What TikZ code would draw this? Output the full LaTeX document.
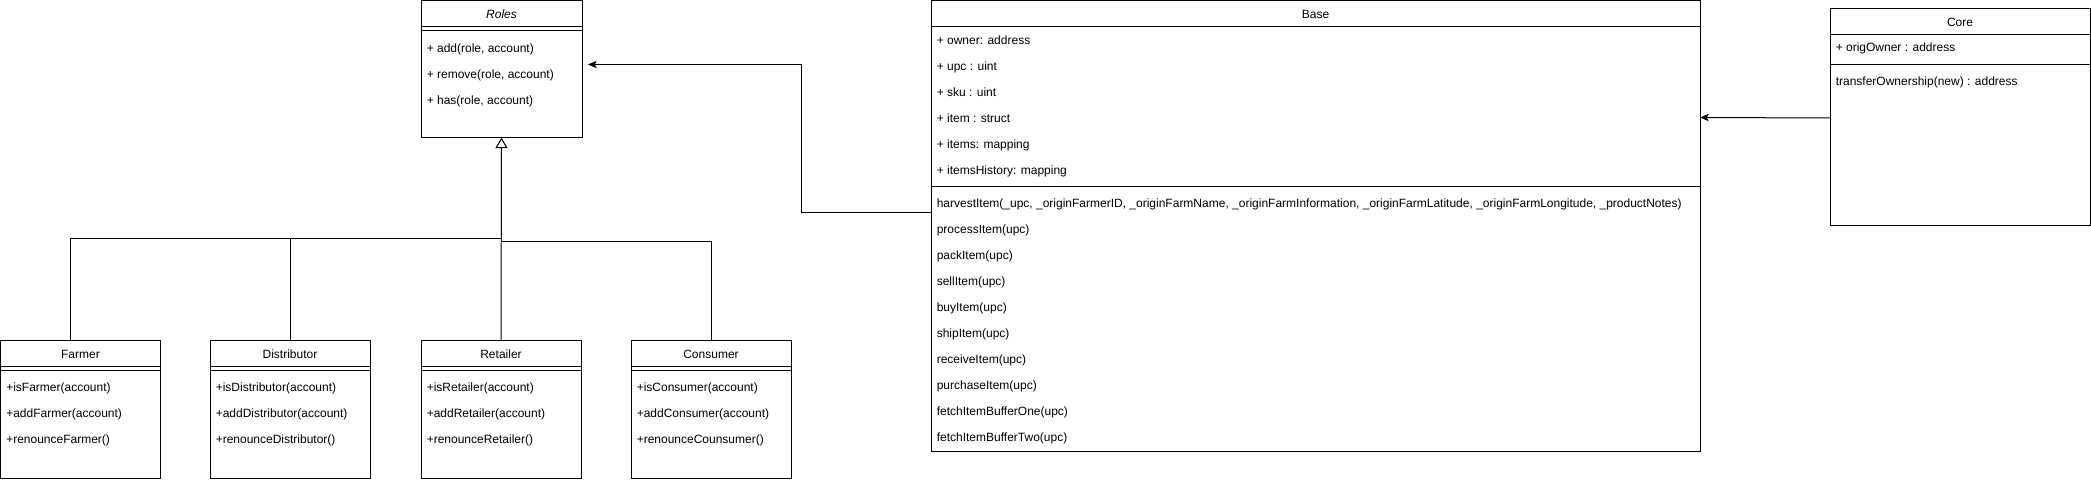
\documentclass[tikz,border=0pt]{standalone}
\usepackage{fontspec}
\setmainfont{Liberation Sans}
\usetikzlibrary{arrows.meta}

\tikzset{
  classbox/.style={draw, rectangle, anchor=north west, inner sep=0pt, outer sep=0pt, line width=0.75pt},
  classtitle/.style={font=\fontsize{9}{11}\selectfont, inner sep=0pt, anchor=base},
  member/.style={font=\fontsize{9}{11}\selectfont, inner sep=0pt, anchor=base west},
  link/.style={line width=0.75pt},
  inherit/.style={link, -{Triangle[open, length=8pt, width=9pt]}},
  assoc/.style={link, -{Stealth[length=6.5pt, width=5.5pt, inset=1.5pt]}},
}

% class box: name, left, top, width, height, title
\newcommand{\myClass}[6]{
\node[classbox, minimum width=#4*0.75pt, minimum height=#5*0.75pt] (#1) at (#2,#3) {};
\node[classtitle] at ([shift={(#4/2,18)}]#1.north west) {#6};
}
% separator line: box, offset
\newcommand{\mySep}[2]{
\draw[link] ([shift={(0,#2)}]#1.north west) -- ([shift={(0,#2)}]#1.north east);
}
% member rows: box, first row centre, entries
\newcommand{\myRows}[3]{
\foreach \txt [count=\n from 0] in {#3}
  \node[member] at ([shift={(5.5,#2+26*\n+4)}]#1.north west) {\txt};
}

\begin{document}
\begin{tikzpicture}[x=0.75pt, y=-0.75pt]
	% frame
	\useasboundingbox (0,0) rectangle (2091,481);
	% roles
	\myClass{roles}{421}{0.5}{161}{137}{\itshape Roles}
	\mySep{roles}{26} \mySep{roles}{30}
	\myRows{roles}{48}{{+ add(role, account)}, {+ remove(role, account)}, {+ has(role, account)}}
	% actors
	\myClass{farmer}{0.5}{340}{160}{138}{Farmer}
	\mySep{farmer}{26} \mySep{farmer}{30}
	\myRows{farmer}{47}{{+isFarmer(account)}, {+addFarmer(account)}, {+renounceFarmer()}}
	\myClass{distributor}{210}{340}{160}{138}{Distributor}
	\mySep{distributor}{26} \mySep{distributor}{30}
	\myRows{distributor}{47}{{+isDistributor(account)}, {+addDistributor(account)}, {+renounceDistributor()}}
	\myClass{retailer}{421}{340}{160}{138}{Retailer}
	\mySep{retailer}{26} \mySep{retailer}{30}
	\myRows{retailer}{47}{{+isRetailer(account)}, {+addRetailer(account)}, {+renounceRetailer()}}
	\myClass{consumer}{631}{340}{160}{138}{Consumer}
	\mySep{consumer}{26} \mySep{consumer}{30}
	\myRows{consumer}{47}{{+isConsumer(account)}, {+addConsumer(account)}, {+renounceCounsumer()}}
	% base
	\myClass{base}{931}{0.5}{769}{451}{Base}
	\mySep{base}{26} \mySep{base}{186}
	\myRows{base}{40}{{+ owner: address}, {+ upc : uint}, {+ sku : uint}, {+ item : struct}, {+ items: mapping}, {+ itemsHistory: mapping}}
	\myRows{base}{203}{{harvestItem(\_upc, \_originFarmerID, \_originFarmName, \_originFarmInformation, \_originFarmLatitude, \_originFarmLongitude, \_productNotes)}, processItem(upc), packItem(upc), sellItem(upc), buyItem(upc), shipItem(upc), receiveItem(upc), purchaseItem(upc), fetchItemBufferOne(upc), fetchItemBufferTwo(upc)}
	% core
	\myClass{core}{1830}{9}{260}{216}{Core}
	\mySep{core}{26} \mySep{core}{56}
	\myRows{core}{39}{{+ origOwner : address}}
	\myRows{core}{73}{{transferOwnership(new) : address}}
	% joins
	\coordinate (joinA) at (501,238);
	\coordinate (joinB) at (501,241);
	% connectors
	\draw[link] ([shift={(70,0)}]farmer.north west) |- (joinA);
	\draw[link] (distributor.north) |- (joinA);
	\draw[link] (consumer.north) |- (joinB);
	\draw[inherit] (retailer.north) -- (roles.south);
	\draw[assoc] ([shift={(0,212)}]base.north west) -- ++(-130,0) |- ([shift={(6,64)}]roles.north east);
	\draw[assoc] ([shift={(0,109)}]core.north west) -- ([shift={(0,117)}]base.north east);
\end{tikzpicture}
\end{document}
